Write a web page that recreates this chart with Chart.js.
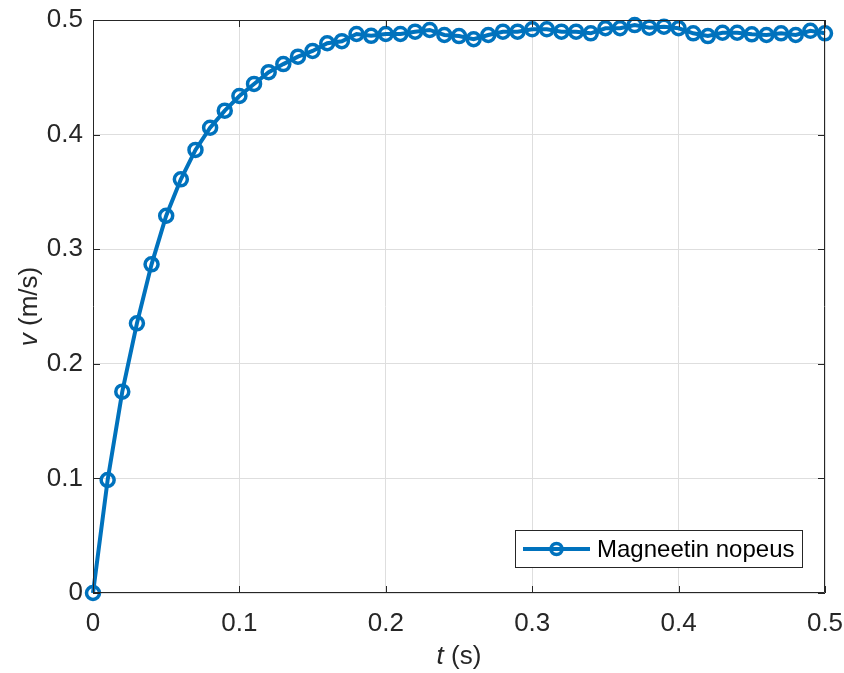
<!DOCTYPE html>
<html>
<head>
<meta charset="utf-8">
<script src="https://cdn.jsdelivr.net/npm/chart.js@4.4.0/dist/chart.umd.min.js"></script>
<style>
  html, body { margin: 0; padding: 0; background: #fff; }
  #wrap { width: 844px; height: 673px; }
</style>
</head>
<body>
<div id="wrap"><canvas id="speedChart" width="844" height="673"></canvas></div>
<script>
// time samples (s)
const times = [0, 0.01, 0.02, 0.03, 0.04, 0.05, 0.06, 0.07, 0.08, 0.09,
  0.10, 0.11, 0.12, 0.13, 0.14, 0.15, 0.16, 0.17, 0.18, 0.19,
  0.20, 0.21, 0.22, 0.23, 0.24, 0.25, 0.26, 0.27, 0.28, 0.29,
  0.30, 0.31, 0.32, 0.33, 0.34, 0.35, 0.36, 0.37, 0.38, 0.39,
  0.40, 0.41, 0.42, 0.43, 0.44, 0.45, 0.46, 0.47, 0.48, 0.49, 0.50];

// magnet speed (m/s)
const speeds = [0, 0.0986, 0.1757, 0.2353, 0.2868, 0.3292, 0.3610, 0.3866, 0.4060, 0.4209,
  0.4337, 0.4442, 0.4545, 0.4615, 0.4680, 0.4730, 0.4797, 0.4815, 0.4878, 0.4862,
  0.4878, 0.4878, 0.4898, 0.4913, 0.4869, 0.4860, 0.4832, 0.4869, 0.4898, 0.4898,
  0.4919, 0.4919, 0.4898, 0.4898, 0.4884, 0.4928, 0.4928, 0.4956, 0.4933, 0.4942,
  0.4928, 0.4884, 0.4860, 0.4889, 0.4889, 0.4875, 0.4869, 0.4884, 0.4869, 0.4906, 0.4884];

const xTicks = [0, 0.1, 0.2, 0.3, 0.4, 0.5];
const yTicks = [0, 0.1, 0.2, 0.3, 0.4, 0.5];
const seriesLabel = 'Magneetin nopeus';

const blue = '#0072BD';
const axisColor = '#262626';
const gridColor = '#dedede';
const fontFamily = '"Liberation Sans", Arial, Helvetica, sans-serif';

const points = times.map((t, i) => ({ x: t, y: speeds[i] }));

// box, inward ticks, axis titles and legend in MATLAB style
const matlabStyle = {
  id: 'matlabStyle',
  afterDraw(chart) {
    const ctx = chart.ctx;
    const a = chart.chartArea;
    const xs = chart.scales.x;
    const ys = chart.scales.y;
    const tickLen = 7;

    ctx.save();
    ctx.strokeStyle = axisColor;
    ctx.lineWidth = 1;
    ctx.beginPath();
    ctx.rect(a.left + 0.5, a.top + 0.5, a.right - a.left - 1, a.bottom - a.top - 1);
    ctx.stroke();

    ctx.beginPath();
    xTicks.forEach(v => {
      const px = Math.round(xs.getPixelForValue(v)) + 0.5;
      ctx.moveTo(px, a.bottom); ctx.lineTo(px, a.bottom - tickLen);
      ctx.moveTo(px, a.top); ctx.lineTo(px, a.top + tickLen);
    });
    yTicks.forEach(v => {
      const py = Math.round(ys.getPixelForValue(v)) + 0.5;
      ctx.moveTo(a.left, py); ctx.lineTo(a.left + tickLen, py);
      ctx.moveTo(a.right, py); ctx.lineTo(a.right - tickLen, py);
    });
    ctx.stroke();

    // axis titles, variable in italics
    ctx.fillStyle = axisColor;
    ctx.textBaseline = 'middle';
    const drawTitle = (italicPart, rest, cx, cy) => {
      ctx.font = 'italic 26px ' + fontFamily;
      const w1 = ctx.measureText(italicPart).width;
      ctx.font = '26px ' + fontFamily;
      const w2 = ctx.measureText(rest).width;
      const start = cx - (w1 + w2) / 2;
      ctx.textAlign = 'left';
      ctx.font = 'italic 26px ' + fontFamily;
      ctx.fillText(italicPart, start, cy);
      ctx.font = '26px ' + fontFamily;
      ctx.fillText(rest, start + w1, cy);
    };
    drawTitle('t', ' (s)', (a.left + a.right) / 2, 657);
    ctx.save();
    ctx.translate(30, (a.top + a.bottom) / 2);
    ctx.rotate(-Math.PI / 2);
    drawTitle('v', ' (m/s)', 0, 0);
    ctx.restore();

    // legend box in the lower right corner
    const box = { x: 515.5, y: 530.5, w: 287, h: 37 };
    ctx.fillStyle = '#fff';
    ctx.fillRect(box.x, box.y, box.w, box.h);
    ctx.strokeStyle = axisColor;
    ctx.lineWidth = 1;
    ctx.strokeRect(box.x, box.y, box.w, box.h);
    const ly = box.y + box.h / 2;
    ctx.strokeStyle = blue;
    ctx.lineWidth = 4;
    ctx.beginPath();
    ctx.moveTo(523, ly); ctx.lineTo(590, ly);
    ctx.stroke();
    ctx.lineWidth = 3.5;
    ctx.beginPath();
    ctx.arc(556.5, ly, 5.5, 0, Math.PI * 2);
    ctx.stroke();
    ctx.fillStyle = '#000';
    ctx.font = '24px ' + fontFamily;
    ctx.textAlign = 'left';
    ctx.fillText(seriesLabel, 597, ly + 1);
    ctx.restore();
  }
};

new Chart(document.getElementById('speedChart').getContext('2d'), {
  type: 'line',
  data: {
    datasets: [{
      label: seriesLabel,
      data: points,
      borderColor: blue,
      borderWidth: 4,
      pointStyle: 'circle',
      pointRadius: 6.5,
      pointBorderWidth: 3.5,
      pointBorderColor: blue,
      pointBackgroundColor: 'rgba(0,0,0,0)',
      tension: 0,
      clip: false
    }]
  },
  options: {
    responsive: false,
    animation: false,
    layout: { padding: { top: 20, right: 19, left: 0, bottom: 0 } },
    plugins: {
      legend: { display: false },
      tooltip: { enabled: false }
    },
    scales: {
      x: {
        type: 'linear',
        min: 0,
        max: 0.5,
        afterBuildTicks: scale => { scale.ticks = xTicks.map(v => ({ value: v })); },
        afterFit: scale => {
          scale.height = 80;
          scale.paddingLeft = 0;
          scale.paddingRight = 0;
        },
        grid: { color: gridColor, drawTicks: false },
        border: { display: false },
        ticks: {
          color: axisColor,
          padding: 15,
          font: { family: fontFamily, size: 26 },
          callback: v => String(v)
        }
      },
      y: {
        type: 'linear',
        min: 0,
        max: 0.5,
        afterBuildTicks: scale => { scale.ticks = yTicks.map(v => ({ value: v })); },
        afterFit: scale => {
          scale.width = 93;
          scale.paddingTop = 0;
          scale.paddingBottom = 0;
        },
        grid: { color: gridColor, drawTicks: false },
        border: { display: false },
        ticks: {
          color: axisColor,
          padding: 10,
          font: { family: fontFamily, size: 26 },
          callback: v => String(v)
        }
      }
    }
  },
  plugins: [matlabStyle]
});
</script>
</body>
</html>
